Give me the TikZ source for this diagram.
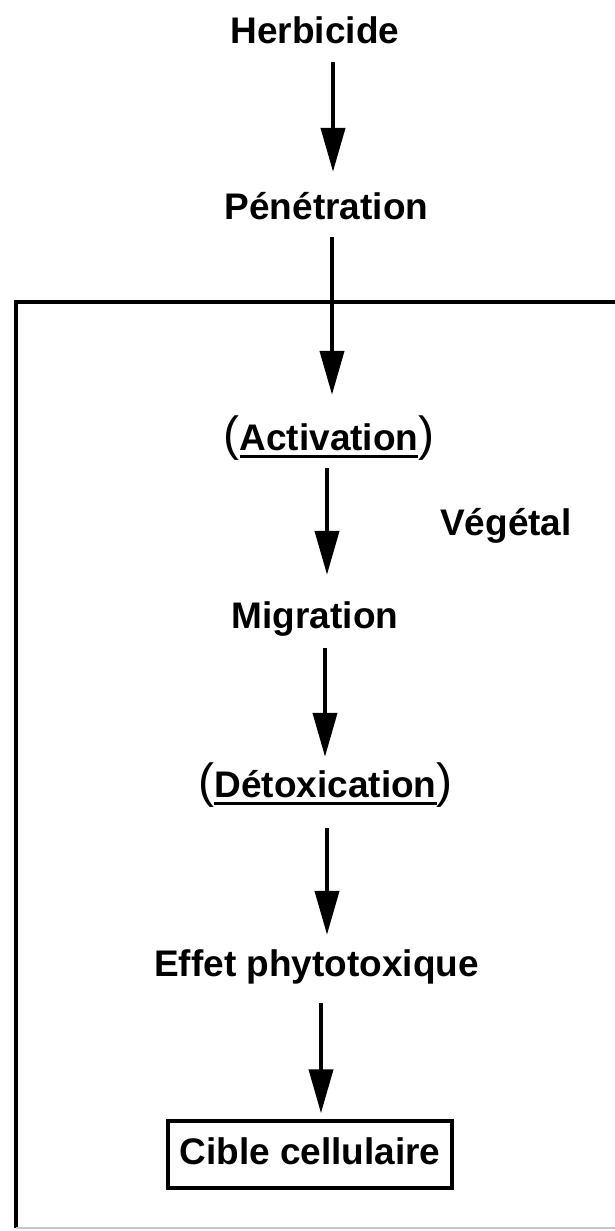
\documentclass[tikz,border=0pt]{standalone}
\usepackage{fontspec}
\setmainfont{Liberation Sans}
\usetikzlibrary{arrows.meta}
\newcommand{\ulw}[1]{\setbox0\hbox{#1}\rlap{\rule[-7.5pt]{\wd0}{3pt}}\box0}
\newcommand{\parf}[1]{{\fontsize{48}{48}\selectfont\mdseries #1}}
\begin{document}
\begin{tikzpicture}[x=1pt,y=-1pt,
  lbl/.style={inner sep=0pt, font=\fontsize{37}{40}\selectfont\bfseries, text height=27pt, text depth=8pt, anchor=base},
  arr/.style={line width=4pt, -{Triangle[length=44pt,width=24pt]}},
  frame/.style={line width=3.5pt},
  cbox/.style={draw, line width=3.5pt, anchor=center, minimum width=284pt, minimum height=67pt}]
\useasboundingbox (0,0) rectangle (615,1231);
% frame
\draw[frame] (620,302) -- (16,302) -- (16,1228);
\draw[gray!45, line width=1.5pt] (16,1228) -- (615,1228);
% nodes
\node[lbl] (herb) at (315,44) {Herbicide};
\node[lbl] (pen) at (326.5,219) {Pénétration};
\node[lbl] (act) at (329,450) {\parf{(}\ulw{Activation}\parf{)}};
\node[lbl] (veg) at (506,535) {Végétal};
\node[lbl] (mig) at (315,628) {Migration};
\node[lbl] (det) at (325.5,797) {\parf{(}\ulw{Détoxication}\parf{)}};
\node[lbl] (eff) at (316.5,976) {Effet phytotoxique};
\node[lbl, cbox] (cib) at (310,1154.5) {Cible cellulaire};
% arrows
\draw[arr, shorten <=10pt, shorten >=20pt] (herb.south -| 333,0) -- (pen.north -| 333,0);
\draw[arr, shorten <=10pt, shorten >=28pt] (pen.south -| 332,0) -- (act.north -| 332,0);
\draw[arr, shorten <=10pt, shorten >=26pt] (act.south -| 327,0) -- (mig.north -| 327,0);
\draw[arr, shorten <=12pt, shorten >=13pt] (mig.south -| 325,0) -- (det.north -| 325,0);
\draw[arr, shorten <=23pt, shorten >=14pt] (det.south -| 327,0) -- (eff.north -| 327,0);
\draw[arr, shorten <=19pt, shorten >=6pt] (eff.south -| 321,0) -- (cib.north -| 321,0);
\end{tikzpicture}
\end{document}
